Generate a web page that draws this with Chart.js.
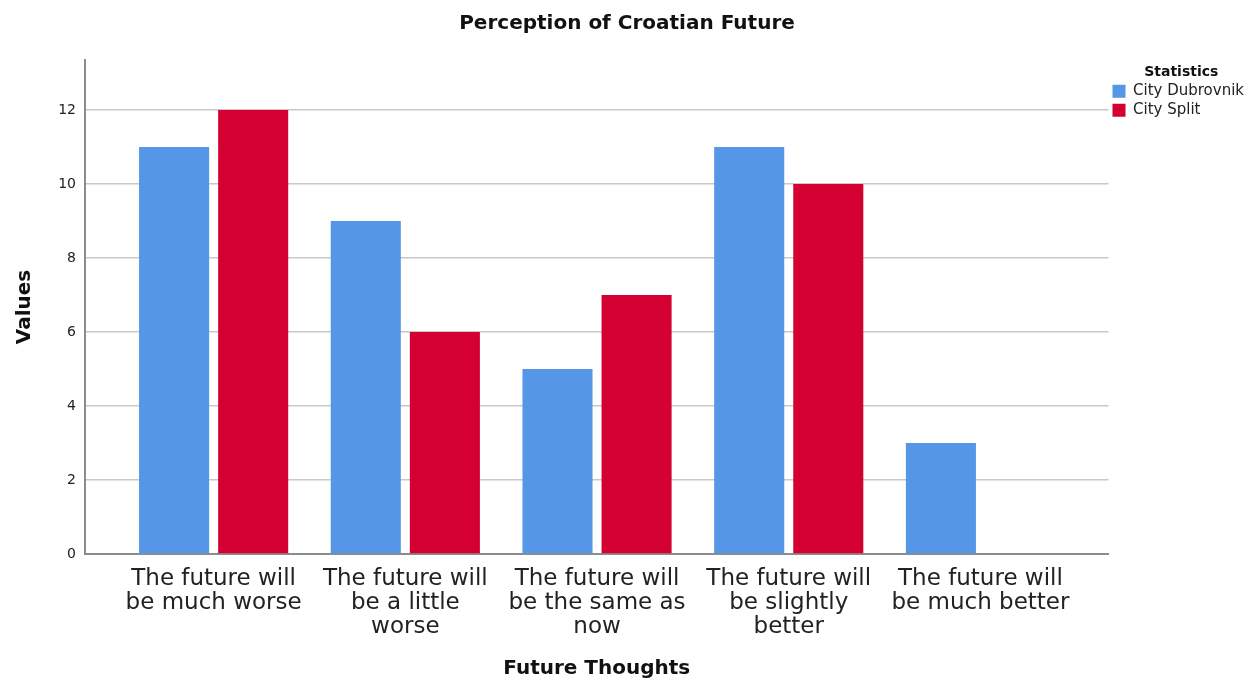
<!DOCTYPE html>
<html>
<head>
<meta charset="utf-8">
<script src="https://cdn.jsdelivr.net/npm/chart.js@4/dist/chart.umd.min.js"></script>
<style>
html,body{margin:0;padding:0;background:#fff;}
#wrap{width:1258px;height:687px;}
</style>
</head>
<body>
<div id="wrap"><canvas id="c" width="1258" height="687"></canvas></div>
<script>
const categories = [
  ["The future will", "be much worse"],
  ["The future will", "be a little", "worse"],
  ["The future will", "be the same as", "now"],
  ["The future will", "be slightly", "better"],
  ["The future will", "be much better"]
];
const seriesNames = ["City Dubrovnik", "City Split"];
const dubrovnik = [11, 9, 5, 11, 3];
const split = [12, 6, 7, 10, 0];
const yTicks = [0, 2, 4, 6, 8, 10, 12];

const FONT = "'DejaVu Sans', sans-serif";
const toPoints = arr => arr.map((v, i) => ({x: i, y: v}));

new Chart(document.getElementById('c'), {
  type: 'bar',
  data: {
    datasets: [
      {label: seriesNames[0], data: toPoints(dubrovnik), backgroundColor: '#5596e6', borderWidth: 0},
      {label: seriesNames[1], data: toPoints(split), backgroundColor: '#d50032', borderWidth: 0}
    ]
  },
  options: {
    responsive: false,
    animation: false,
    categoryPercentage: 0.825,
    barPercentage: 0.886,
    layout: {padding: {left: 0, right: 4, top: 0, bottom: 0}},
    plugins: {
      tooltip: {enabled: false},
      title: {
        display: true,
        text: 'Perception of Croatian Future',
        color: '#111',
        font: {family: FONT, size: 20, weight: 'bold', lineHeight: 1.2},
        padding: {top: 12, bottom: 24}
      },
      legend: {
        position: 'right',
        align: 'start',
        fullSize: false,
        title: {
          display: true,
          text: 'Statistics',
          color: '#111',
          font: {family: FONT, size: 14, weight: 'bold'},
          padding: {top: 5, bottom: -2}
        },
        labels: {
          boxWidth: 13,
          boxHeight: 13,
          padding: 4,
          color: '#222',
          font: {family: FONT, size: 15}
        }
      }
    },
    scales: {
      x: {
        type: 'linear',
        offset: false,
        min: -0.671,
        max: 4.668,
        afterBuildTicks: s => { s.ticks = categories.map((c, i) => ({value: i})); },
        afterFit: s => { s.height = 133; },
        ticks: {
          autoSkip: false,
          maxRotation: 0,
          padding: 13,
          color: '#222',
          font: {family: FONT, size: 23, lineHeight: 1.04},
          callback: v => categories[v]
        },
        grid: {display: false, drawTicks: false},
        border: {display: true, color: '#8c8c8c', width: 2},
        title: {
          display: true,
          text: 'Future Thoughts',
          color: '#111',
          font: {family: FONT, size: 20, weight: 'bold', lineHeight: 1.2},
          padding: {top: 0, bottom: 6}
        }
      },
      y: {
        min: 0,
        max: 13.35,
        afterBuildTicks: s => { s.ticks = yTicks.map(v => ({value: v})); },
        afterFit: s => { s.width = 85; },
        ticks: {
          padding: 9,
          color: '#222',
          font: {family: FONT, size: 14}
        },
        grid: {display: true, color: '#c8c8c8', lineWidth: 1.5, drawTicks: false},
        border: {display: true, color: '#8c8c8c', width: 2},
        title: {
          display: true,
          text: 'Values',
          color: '#111',
          font: {family: FONT, size: 20, weight: 'bold', lineHeight: 1.2},
          padding: {top: 13, bottom: 0}
        }
      }
    }
  }
});
</script>
</body>
</html>
